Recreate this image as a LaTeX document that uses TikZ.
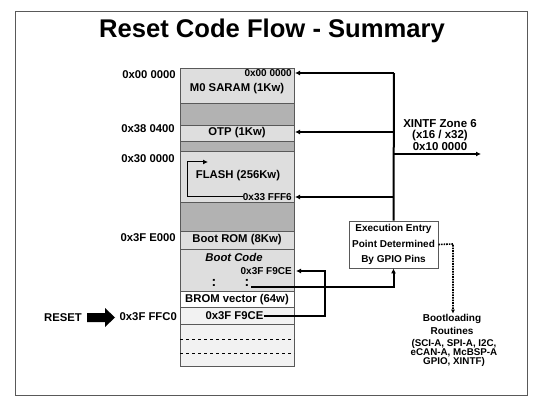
\documentclass[tikz,border=0pt]{standalone}
\usepackage{fontspec}
\setmainfont{Liberation Sans}
\usetikzlibrary{arrows.meta}
\definecolor{lightg}{gray}{0.87}
\definecolor{darkg}{gray}{0.70}
\definecolor{paleg}{gray}{0.95}
\definecolor{edge}{gray}{0.35}
\tikzset{
  lbl/.style={font=\fontsize{11.3}{12}\selectfont\bfseries, inner sep=0pt},
  sml/.style={font=\fontsize{10}{11}\selectfont\bfseries, inner sep=0pt},
  dotsym/.style={font=\fontsize{14}{14}\selectfont\bfseries, inner sep=0pt},
  cell/.style={draw=edge, line width=0.8pt},
  conn/.style={line width=2pt},
  arr/.style={line width=2pt, -{Latex[length=5pt,width=5pt]}},
  thinarr/.style={line width=1pt, -{Latex[length=5pt,width=5pt]}},
  dotarr/.style={line width=1.6pt, densely dotted, -{Latex[length=4pt,width=4pt]}},
}
\begin{document}
\begin{tikzpicture}[x=1pt,y=-1pt]
\useasboundingbox (0,0) rectangle (550,412);
% frame
\draw[line width=1pt, draw=gray!70!black] (15,12) rectangle (527,395);
\node[font=\fontsize{25.6}{28}\selectfont\bfseries, inner sep=0pt] (title) at (272,31) {Reset Code Flow - Summary};

% memory map cells
\filldraw[cell, fill=lightg] (180,68) rectangle (294,103);
\filldraw[cell, fill=darkg] (180,103) rectangle (294,125);
\filldraw[cell, fill=lightg] (180,125) rectangle (294,141);
\filldraw[cell, fill=darkg] (180,141) rectangle (294,151);
\filldraw[cell, fill=lightg] (180,151) rectangle (294,202);
\filldraw[cell, fill=darkg] (180,202) rectangle (294,231);
\filldraw[cell, fill=lightg] (180,231) rectangle (294,249);
\filldraw[cell, fill=lightg] (180,249) rectangle (294,291);
\filldraw[cell, fill=white] (180,291) rectangle (294,307);
\filldraw[cell, fill=paleg] (180,307) rectangle (294,324);
\filldraw[cell, fill=paleg] (180,324) rectangle (294,366);
\draw[line width=0.8pt, dashed] (180,339) -- (294,339);
\draw[line width=0.8pt, dashed] (180,353) -- (294,353);

% left addresses
\node[lbl, anchor=east] (a0) at (176,75) {0x00 0000};
\node[lbl, anchor=east] (a1) at (175,129) {0x38 0400};
\node[lbl, anchor=east] (a2) at (175,159) {0x30 0000};
\node[lbl, anchor=east] (a3) at (176,238) {0x3F E000};
\node[lbl, anchor=east] (a4) at (177,317) {0x3F FFC0};
\node[lbl, anchor=east] (reset) at (82,318) {RESET};
% RESET block arrow
\fill (87,313) -- (105,313) -- (105,308) -- (115,317.5) -- (105,327) -- (105,322) -- (87,322) -- cycle;

% cell texts
\node[sml, anchor=east] (m0addr) at (292,73) {0x00 0000};
\node[lbl] (m0) at (237,89) {M0 SARAM (1Kw)};
\node[lbl] (otp) at (237,133) {OTP (1Kw)};
\node[lbl] (flash) at (238,176) {FLASH (256Kw)};
\node[sml, anchor=east] (flashaddr) at (292,197) {0x33 FFF6};
\node[lbl] (brom) at (237,240) {Boot ROM (8Kw)};
\node[lbl, font=\fontsize{11.3}{12}\selectfont\bfseries\itshape] (bcode) at (234,257) {Boot Code};
\node[sml, anchor=east] (bcaddr) at (292,271) {0x3F F9CE};
\node[dotsym] (dot1) at (214,283) {:};
\node[dotsym] (dot2) at (247,283) {:};
\node[lbl] (bvec) at (237,300) {BROM vector (64w)};
\node[lbl] (vaddr) at (234.5,316) {0x3F F9CE};

% flash internal arrow
\coordinate (fcorner) at (187,197);
\draw[line width=1pt] (flashaddr.west) -- (fcorner);
\draw[thinarr] (fcorner) -- (187,162) -- (208,162);

% execution entry box
\node[draw=gray!70!black, line width=0.8pt, minimum width=89pt, minimum height=47pt, inner sep=0pt,
      font=\fontsize{10}{15.5}\selectfont\bfseries, align=center] (exec) at (393.5,244.5)
      {Execution Entry\\Point Determined\\By GPIO Pins};

% trunk and connectors into the memory map
\coordinate (jtop) at (394,73);
\coordinate (m0in) at (295,73);
\coordinate (otpin) at (295,132);
\coordinate (flashin) at (295,197);
\coordinate (xout) at (481,154);
\draw[conn] (exec.north) -- (jtop);
\draw[arr] (jtop) -- (m0in);
\draw[arr] (exec.north |- otpin) -- (otpin);
\draw[arr] (exec.north |- flashin) -- (flashin);
\draw[arr] (exec.north |- xout) -- (xout);
\node[font=\fontsize{11.5}{11.5}\selectfont\bfseries, align=center, inner sep=0pt] (xintf) at (440,135)
  {XINTF Zone 6\\(x16 / x32)\\0x10 0000};

% boot vector to boot code
\coordinate (vturn) at (325,316);
\coordinate (bcin) at (296,271);
\draw[arr] (vaddr.east) -- (vturn) |- (bcin);
% dots to execution box
\coordinate (dline) at (251,287);
\draw[arr] (dline) -| (exec.south);

% bootloading
\node[sml, align=center, font=\fontsize{10}{13}\selectfont\bfseries] (boot) at (452,324) {Bootloading\\Routines};
\node[sml, align=center, font=\fontsize{9.8}{9}\selectfont\bfseries] (bootlist) at (454,353) {(SCI-A, SPI-A, I2C,\\eCAN-A, McBSP-A\\GPIO, XINTF)};
\coordinate (dcorner) at (453,244);
\draw[dotarr] (exec.east) -- (dcorner) -- (boot.north -| dcorner);
\end{tikzpicture}
\end{document}
